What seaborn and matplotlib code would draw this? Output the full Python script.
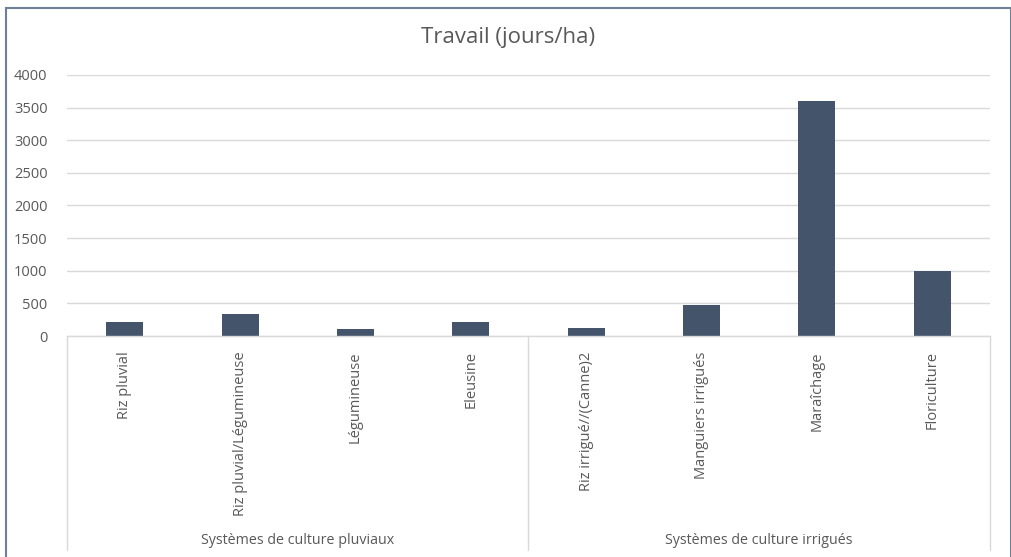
import matplotlib
matplotlib.use("Agg")
import matplotlib.pyplot as plt
from matplotlib.patches import Rectangle
import matplotlib.transforms as mtransforms
import seaborn as sns
import pandas as pd

# Labour requirement per cropping system
categories = [
    "Riz pluvial",
    "Riz pluvial/Légumineuse",
    "Légumineuse",
    "Eleusine",
    "Riz irrigué//(Canne)2",
    "Manguiers irrigués",
    "Maraîchage",
    "Floriculture",
]
values = [220, 335, 105, 220, 130, 475, 3600, 990]
groups = ["Systèmes de culture pluviaux", "Systèmes de culture irrigués"]
group_sizes = [4, 4]
yticks = [0, 500, 1000, 1500, 2000, 2500, 3000, 3500, 4000]

sns.set_theme(style="white")
plt.rcParams["font.family"] = ["Open Sans", "DejaVu Sans"]

W, H = 1012, 557
fig = plt.figure(figsize=(W / 100, H / 100), dpi=100)

# plot area in pixel coordinates
left, right, top, bottom = 67, 990, 75, 336
ax = fig.add_axes([left / W, 1 - bottom / H, (right - left) / W, (bottom - top) / H])

df = pd.DataFrame({"cat": categories, "val": values})
sns.barplot(data=df, x="cat", y="val", color="#44546a", width=0.32,
            saturation=1, ax=ax, edgecolor="none")

ax.set_xlim(-0.5, len(categories) - 0.5)
ax.set_ylim(0, 4000)
ax.set_yticks(yticks)
ax.set_yticklabels([str(v) for v in yticks], fontsize=10.5, color="#595959")
ax.tick_params(axis="y", length=0, pad=14)
ax.tick_params(axis="x", length=0, pad=11)
ax.set_xticks(range(len(categories)))
ax.set_xticklabels(categories, rotation=90, fontsize=10.5, color="#595959",
                   va="top", ha="center")
ax.set_xlabel("")
ax.set_ylabel("")

ax.yaxis.grid(True, color="#d9d9d9", linewidth=1)
ax.set_axisbelow(True)
for side in ["left", "right", "top"]:
    ax.spines[side].set_visible(False)
ax.spines["bottom"].set_color("#d9d9d9")
ax.spines["bottom"].set_linewidth(1)

# group separators and group labels below the axis
trans = mtransforms.blended_transform_factory(ax.transData, fig.transFigure)
y_top = 1 - bottom / H
y_bot = 1 - 550 / H
edges = [-0.5]
for n in group_sizes:
    edges.append(edges[-1] + n)
for x in edges:
    ax.plot([x, x], [y_top, y_bot], transform=trans, color="#d9d9d9",
            linewidth=1, clip_on=False)
for g, a, b in zip(groups, edges[:-1], edges[1:]):
    ax.text((a + b) / 2, 1 - 541 / H, g, transform=trans, ha="center",
            va="center", fontsize=10.3, color="#595959")

fig.text(508 / W, 1 - 38 / H, "Travail (jours/ha)", ha="center", va="center",
         fontsize=16, color="#595959")

# chart frame
fig.patches.append(Rectangle((6 / W, -0.05), (1011 - 6) / W, 1.05 - 8 / H,
                             transform=fig.transFigure, fill=False,
                             edgecolor="#6f7f96", linewidth=1.5))

fig.savefig("out.png", dpi=100)
